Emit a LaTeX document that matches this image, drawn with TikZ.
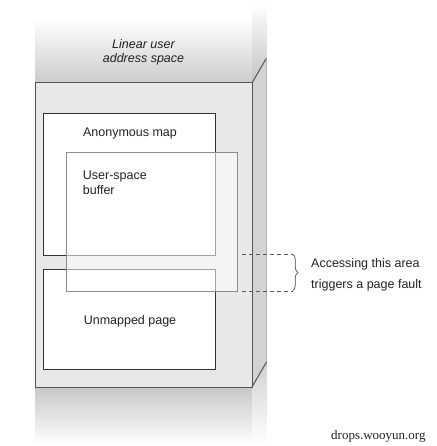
\documentclass[tikz,border=0pt]{standalone}
\usepackage{fontspec}
\setmainfont{Liberation Sans}
\newfontfamily\wmfont{Liberation Serif}
\usetikzlibrary{decorations.pathreplacing}
\definecolor{frontgray}{HTML}{E8E8E8}
\definecolor{sidegray}{HTML}{D3D3D3}
\definecolor{edgegray}{HTML}{555555}
\definecolor{txt}{HTML}{222222}
\begin{document}
\begin{tikzpicture}[x=1pt,y=-1pt,
  lbl/.style={inner sep=0pt, text=txt, font=\fontsize{12.5}{15}\selectfont, anchor=base},
  lblw/.style={lbl, anchor=base west},
  ttl/.style={lbl, font=\fontsize{12.5}{15}\selectfont\itshape},
  mapbox/.style={draw=black!80, fill=white, line width=0.9pt},
  bufbox/.style={draw=black!45, line width=0.8pt, fill=white, fill opacity=0.55},
  guide/.style={draw=black!65, line width=0.7pt, dash pattern=on 4pt off 3pt},
  bracestyle/.style={draw=black!70, line width=0.7pt, decorate, decoration={brace, amplitude=5.5pt}},
  boxedge/.style={draw=edgegray, line width=1pt}]
\useasboundingbox (0,0) rectangle (436,446);
% column fading above and below
\shade[top color=white, bottom color=black!20] (35,18) rectangle (252,83);
\shade[top color=white, bottom color=black!24] (252,4) rectangle (266.5,83);
\shade[top color=black!22, bottom color=white] (35,387) rectangle (252,444);
\shade[top color=black!18, bottom color=white] (252,362) rectangle (266.5,444);
% front and side faces
\fill[frontgray] (35,83) rectangle (252,387);
\fill[sidegray] (252,83) -- (266.5,58) -- (266.5,362) -- (252,387) -- cycle;
\draw[boxedge] (35,83) rectangle (252,387);
\draw[boxedge] (252,83) -- (266.5,58);
\draw[boxedge] (252,387) -- (266.5,362);
\draw[draw=black!30, line width=0.6pt] (266.5,58) -- (266.5,362);
% maps
\draw[mapbox] (43,113) rectangle (215,255);
\draw[mapbox] (43,269) rectangle (215,369);
\draw[bufbox] (66,152) rectangle (237,291);
\coordinate (anonEnd) at (242,254);
\coordinate (bufEnd) at (242,291);
\coordinate (braceTop) at (292.5,254);
\coordinate (braceBot) at (292.5,291);
\path[guide] (anonEnd) -- (braceTop);
\path[guide] (bufEnd) -- (braceBot);
\path[bracestyle] (braceTop) -- (braceBot);
% labels
\node[ttl] (title1) at (143.5,48.3) {Linear user};
\node[ttl] (title2) at (143.5,62.7) {address space};
\node[lbl] (anon) at (130,136.7) {Anonymous map};
\node[lblw] (buf1) at (82.7,179.3) {User-space};
\node[lblw] (buf2) at (82.7,194) {buffer};
\node[lbl] (unm) at (130,324) {Unmapped page};
\node[lblw] (acc1) at (311,267) {Accessing this area};
\node[lblw] (acc2) at (311,288.8) {triggers a page fault};
\node[lblw, font=\wmfont\fontsize{13}{15}\selectfont] (wm) at (331,439.3) {drops.wooyun.org};
\end{tikzpicture}
\end{document}
